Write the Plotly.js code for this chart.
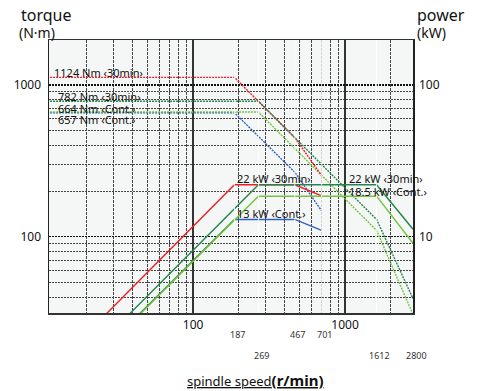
<!DOCTYPE html>
<html>
<head>
<meta charset="utf-8">
<script src="https://cdn.plot.ly/plotly-3.0.1.min.js"></script>
<style>html,body{margin:0;padding:0;background:#fff;}#chart{width:486px;height:391px;}</style>
</head>
<body>
<div id="chart"></div>
<script>
// ---- data ----
// torque curves (N·m), dotted, left axis
const torqueRedN = [10, 187, 467, 701];
const torqueRed = [1124, 1124, 450, 253];
const torqueDkGreenN = [10, 269, 1612, 2800];
const torqueDkGreen = [782, 782, 130, 39];
const torqueLtGreenN = [10, 269, 1612, 2800];
const torqueLtGreen = [664, 664, 110, 30.7];
const torqueBlueN = [10, 187, 467, 701];
const torqueBlue = [657, 657, 266, 148];

// power curves (kW), solid, right axis
const powerRedN = [26, 187, 467, 701];
const powerRed = [3.0, 22, 22, 18.6];
const powerDkGreenN = [37, 269, 1612, 2800];
const powerDkGreen = [3.0, 22, 22, 11.2];
const powerLtGreenN = [43.5, 269, 1612, 2800];
const powerLtGreen = [3.0, 18.5, 18.5, 9.05];
const powerBlueRiseN = [43, 187];
const powerBlueRise = [3.0, 13];
const powerBlueN = [187, 467, 701];
const powerBlue = [13, 13, 11];

// axis ticks
const xMajor = [100, 1000];
const xMinor = [20, 30, 40, 50, 60, 70, 80, 90, 200, 300, 400, 500, 600, 700, 800, 900, 2000];
const yMajor = [100, 1000];
const yMinor = [40, 50, 60, 70, 80, 90, 200, 300, 400, 500, 600, 700, 800, 900];
const y2Major = [10, 100];
const speedRow1 = [187, 467, 701];
const speedRow2 = [269, 1612, 2800];
const speedMarks = [187, 269, 467, 701, 1612];

const torqueLabels = ['1124 Nm ‹30min›', '782 Nm ‹30min›', '664 Nm ‹Cont.›', '657 Nm ‹Cont.›'];
const powerLabels = ['22 kW ‹30min›', '13 kW ‹Cont.›', '22 kW ‹30min›', '18.5 kW ‹Cont.›'];

// ---- styles ----
const RED = '#ee1c24', DKG = '#23864a', LTG = '#72c43c', BLUE = '#2f5fc4';
const DOT = '2px,1px';
const FONT = 'Noto Sans, DejaVu Sans, sans-serif';
const XR = [1.052, 3.447];

function dotted(x, y, c) {
  return {x: x, y: y, type: 'scatter', mode: 'lines', yaxis: 'y', hoverinfo: 'skip',
          line: {color: c, width: 1.4, dash: DOT}};
}
function solid(x, y, c) {
  return {x: x, y: y, type: 'scatter', mode: 'lines', yaxis: 'y2', hoverinfo: 'skip',
          line: {color: c, width: 1.4}};
}

const traces = [
  dotted(torqueBlueN, torqueBlue, BLUE),
  dotted(torqueLtGreenN, torqueLtGreen, LTG),
  dotted(torqueRedN, torqueRed, RED),
  dotted(torqueDkGreenN, torqueDkGreen, DKG),
  solid(powerBlueN, powerBlue, BLUE),
  solid(powerRedN, powerRed, RED),
  solid(powerBlueRiseN, powerBlueRise, DKG),
  solid(powerDkGreenN, powerDkGreen, DKG),
  solid(powerLtGreenN, powerLtGreen, LTG)
];

// pixel -> paper helpers for text placement
const L = 49, R = 413, T = 40, B = 313;
const px = x => (x - L) / (R - L);
const py = y => (B - y) / (B - T);
const speedToPaper = v => (Math.log10(v) - XR[0]) / (XR[1] - XR[0]);

function label(text, x, y, size, extra) {
  return Object.assign({text: text, xref: 'paper', yref: 'paper', x: px(x), y: py(y),
    xanchor: 'left', yanchor: 'middle', showarrow: false,
    font: {family: FONT, size: size, color: '#111'}}, extra || {});
}

const annotations = [
  label(torqueLabels[0], 52, 72.5, 11),
  label(torqueLabels[1], 56, 96, 11),
  label(torqueLabels[2], 56, 108.3, 11),
  label(torqueLabels[3], 56, 120, 11),
  label(powerLabels[0], 235, 178.3, 11),
  label(powerLabels[1], 235, 213, 11),
  label(powerLabels[2], 347, 178.3, 11),
  label(powerLabels[3], 347, 191, 11),
  label('torque', 19, 15, 16),
  label('(N·m)', 17, 32, 14),
  label('power', 415, 15, 16),
  label('(kW)', 415, 32, 14),
  label('<u>spindle speed<span style="font-weight:bold;font-size:15px">(r/min)</span></u>', 185, 380, 13)
];
function speedLabel(v, y) {
  return {text: String(v), xref: 'paper', yref: 'paper', x: speedToPaper(v),
    y: py(y), xshift: 3, showarrow: false, xanchor: 'center', yanchor: 'middle',
    font: {family: FONT, size: 9, color: '#333'}};
}
speedRow1.forEach(v => annotations.push(speedLabel(v, 334)));
speedRow2.forEach(v => annotations.push(speedLabel(v, 356)));

const shapes = speedMarks.map(v => ({type: 'line', xref: 'x', yref: 'paper', x0: v, x1: v, y0: 0, y1: 1,
  layer: 'above', line: {color: 'rgba(255,255,255,0.85)', width: 1}}));

const layout = {
  width: 486, height: 391,
  margin: {l: L, r: 486 - R, t: T, b: 391 - B, pad: 0},
  paper_bgcolor: '#ffffff', plot_bgcolor: '#f5f7f7',
  showlegend: false,
  font: {family: FONT, color: '#111'},
  xaxis: {type: 'log', range: XR, tickmode: 'array', tickvals: xMajor,
    ticktext: xMajor.map(String), ticks: '', tickfont: {size: 12, color: '#111'},
    showgrid: true, gridcolor: '#333', gridwidth: 1.5,
    minor: {tickmode: 'array', tickvals: xMinor, showgrid: true, gridcolor: '#444', gridwidth: 1, griddash: '3px,1px'},
    showline: true, linecolor: '#333', linewidth: 1.5, mirror: true, zeroline: false, fixedrange: true},
  yaxis: {type: 'log', range: [1.497, 3.297], tickmode: 'array', tickvals: yMajor,
    ticktext: yMajor.map(String), ticks: '', tickfont: {size: 12, color: '#111'}, ticklabelstandoff: 4,
    showgrid: true, gridcolor: '#111', gridwidth: 1.2, griddash: DOT,
    minor: {tickmode: 'array', tickvals: yMinor, showgrid: true, gridcolor: '#444', gridwidth: 1, griddash: DOT},
    showline: true, linecolor: '#222', linewidth: 1.5, mirror: true, zeroline: false, fixedrange: true},
  yaxis2: {type: 'log', range: [0.497, 2.297], overlaying: 'y', side: 'right', tickmode: 'array',
    tickvals: y2Major, ticktext: y2Major.map(String), ticks: '', tickfont: {size: 12, color: '#111'},
    ticklabelstandoff: 5, showgrid: false, zeroline: false, showline: false, fixedrange: true},
  annotations: annotations,
  shapes: shapes
};

Plotly.newPlot('chart', traces, layout, {staticPlot: true, displayModeBar: false});
</script>
</body>
</html>
